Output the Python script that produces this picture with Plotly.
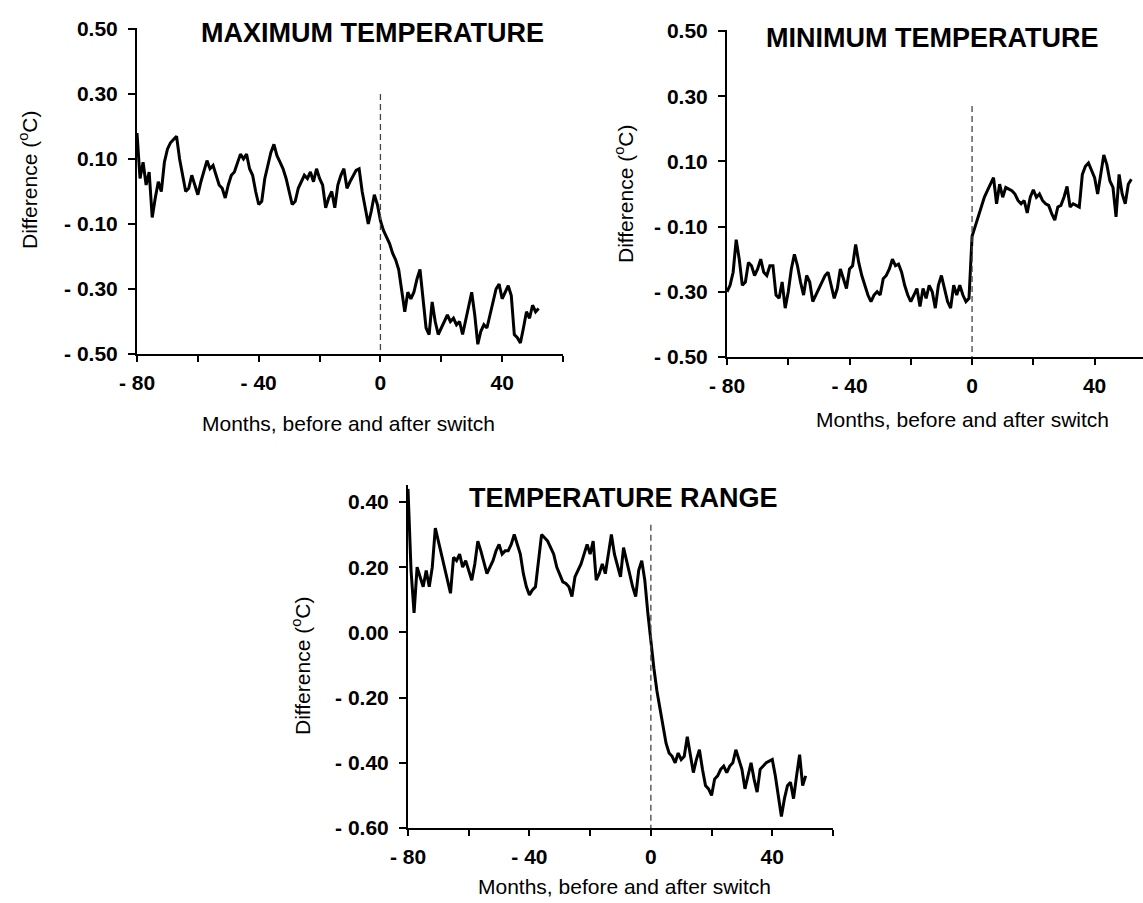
import plotly.graph_objects as go

# ---------------- data ----------------
months_max = list(range(-80, 53))
diff_max = [
    0.18, 0.04, 0.09, 0.02, 0.06, -0.08, -0.02, 0.03, 0.00, 0.09,
    0.13, 0.15, 0.16, 0.17, 0.10, 0.05, 0.00, 0.01, 0.05, 0.02,
    -0.01, 0.03, 0.06, 0.095, 0.07, 0.08, 0.05, 0.02, 0.01, -0.02,
    0.02, 0.05, 0.06, 0.09, 0.115, 0.10, 0.115, 0.07, 0.05, 0.00,
    -0.04, -0.03, 0.04, 0.08, 0.12, 0.145, 0.11, 0.09, 0.07, 0.04,
    0.00, -0.04, -0.03, 0.01, 0.03, 0.05, 0.04, 0.06, 0.03, 0.07,
    0.04, 0.02, -0.05, -0.02, 0.00, -0.05, 0.02, 0.05, 0.07, 0.01,
    0.03, 0.05, 0.065, 0.07, 0.00, -0.05, -0.10, -0.06, -0.01, -0.04,
    -0.09, -0.12, -0.14, -0.16, -0.19, -0.21, -0.24, -0.30, -0.37, -0.31,
    -0.33, -0.31, -0.27, -0.24, -0.34, -0.42, -0.44, -0.34, -0.40, -0.44,
    -0.42, -0.40, -0.38, -0.40, -0.39, -0.41, -0.40, -0.44, -0.40, -0.36,
    -0.31, -0.38, -0.47, -0.43, -0.41, -0.42, -0.38, -0.33, -0.30, -0.285,
    -0.33, -0.31, -0.29, -0.32, -0.44, -0.45, -0.466, -0.42, -0.37, -0.39,
    -0.35, -0.37, -0.36,
]

months_min = list(range(-80, 53))
diff_min = [
    -0.30, -0.28, -0.24, -0.14, -0.20, -0.28, -0.27, -0.21, -0.22, -0.25,
    -0.23, -0.20, -0.24, -0.25, -0.22, -0.22, -0.31, -0.32, -0.27, -0.35,
    -0.30, -0.23, -0.185, -0.22, -0.27, -0.31, -0.25, -0.27, -0.33, -0.31,
    -0.29, -0.27, -0.25, -0.24, -0.28, -0.32, -0.29, -0.23, -0.26, -0.29,
    -0.23, -0.22, -0.155, -0.21, -0.25, -0.28, -0.31, -0.33, -0.31, -0.30,
    -0.31, -0.26, -0.25, -0.23, -0.20, -0.22, -0.215, -0.24, -0.28, -0.31,
    -0.33, -0.31, -0.29, -0.345, -0.29, -0.32, -0.28, -0.30, -0.35, -0.28,
    -0.25, -0.29, -0.33, -0.35, -0.28, -0.31, -0.28, -0.31, -0.33, -0.32,
    -0.13, -0.10, -0.07, -0.04, -0.01, 0.01, 0.03, 0.05, -0.03, 0.03,
    -0.01, 0.02, 0.015, 0.01, 0.00, -0.02, -0.03, -0.02, -0.058, -0.01,
    0.013, -0.01, 0.00, -0.02, -0.03, -0.035, -0.06, -0.08, -0.04, -0.035,
    -0.01, 0.023, -0.04, -0.03, -0.035, -0.04, 0.06, 0.085, 0.095, 0.07,
    0.05, 0.00, 0.06, 0.12, 0.09, 0.04, 0.02, -0.07, 0.06, 0.00,
    -0.03, 0.03, 0.045,
]

months_rng = list(range(-80, 52))
diff_rng = [
    0.44, 0.19, 0.06, 0.20, 0.17, 0.14, 0.19, 0.14, 0.20, 0.32,
    0.28, 0.24, 0.19, 0.16, 0.12, 0.23, 0.22, 0.24, 0.20, 0.22,
    0.19, 0.16, 0.21, 0.28, 0.25, 0.21, 0.18, 0.20, 0.22, 0.25,
    0.27, 0.24, 0.25, 0.25, 0.27, 0.30, 0.27, 0.24, 0.18, 0.14,
    0.115, 0.13, 0.14, 0.22, 0.30, 0.29, 0.28, 0.26, 0.24, 0.20,
    0.18, 0.155, 0.15, 0.14, 0.11, 0.17, 0.19, 0.21, 0.24, 0.27,
    0.24, 0.28, 0.16, 0.18, 0.21, 0.18, 0.24, 0.30, 0.24, 0.20,
    0.17, 0.26, 0.22, 0.19, 0.14, 0.11, 0.19, 0.22, 0.16, 0.06,
    -0.03, -0.11, -0.18, -0.23, -0.29, -0.34, -0.37, -0.38, -0.40, -0.37,
    -0.39, -0.38, -0.32, -0.38, -0.43, -0.39, -0.36, -0.42, -0.47, -0.48,
    -0.50, -0.45, -0.44, -0.42, -0.41, -0.43, -0.41, -0.40, -0.36, -0.39,
    -0.42, -0.48, -0.44, -0.40, -0.45, -0.49, -0.42, -0.41, -0.40, -0.395,
    -0.39, -0.44, -0.50, -0.565, -0.51, -0.47, -0.46, -0.51, -0.44, -0.375,
    -0.47, -0.44,
]

titles = ["MAXIMUM TEMPERATURE", "MINIMUM TEMPERATURE", "TEMPERATURE RANGE"]
x_title = "Months, before and after switch"
y_title = "Difference (<sup>o</sup>C)"

x_tickvals = [-80, -40, 0, 40]
x_ticktext = ["- 80", "- 40", "0", "40"]
x_minorvals = [-60, -20, 20, 60]
y_tickvals_a = [-0.5, -0.3, -0.1, 0.1, 0.3, 0.5]
y_ticktext_a = ["- 0.50", "- 0.30", "- 0.10", "0.10", "0.30", "0.50"]
y_tickvals_b = [-0.6, -0.4, -0.2, 0.0, 0.2, 0.4]
y_ticktext_b = ["- 0.60", "- 0.40", "- 0.20", "0.00", "0.20", "0.40"]

# ---------------- figure ----------------
W, H = 1143, 903
FONT = "Liberation Sans, Arial, Helvetica, sans-serif"

def px_x(p):
    return p / W

def px_y(p):
    return 1 - p / H

fig = go.Figure()
line_style = dict(color="black", width=3)
fig.add_trace(go.Scatter(x=months_max, y=diff_max, mode="lines", line=line_style, xaxis="x", yaxis="y"))
fig.add_trace(go.Scatter(x=months_min, y=diff_min, mode="lines", line=line_style, xaxis="x2", yaxis="y2"))
fig.add_trace(go.Scatter(x=months_rng, y=diff_rng, mode="lines", line=line_style, xaxis="x3", yaxis="y3"))

tick_font = dict(family=FONT, size=21, color="black", weight="bold")

def xaxis(domain, rng, anchor):
    return dict(domain=domain, range=rng, anchor=anchor, tickmode="array",
                tickvals=x_tickvals, ticktext=x_ticktext,
                ticks="outside", ticklen=6, tickwidth=2, tickcolor="black",
                minor=dict(tickmode="array", tickvals=x_minorvals, ticks="outside",
                           ticklen=6, tickwidth=2, tickcolor="black", showgrid=False),
                showline=True, linewidth=2, linecolor="black", showgrid=False, zeroline=False,
                tickfont=tick_font, ticklabelstandoff=3, automargin=False, fixedrange=True)

def yaxis(domain, rng, anchor, tv, tt):
    return dict(domain=domain, range=rng, anchor=anchor, tickmode="array", tickvals=tv, ticktext=tt,
                ticks="outside", ticklen=7, tickwidth=2, tickcolor="black",
                showline=True, linewidth=2, linecolor="black", showgrid=False, zeroline=False,
                tickfont=tick_font, ticklabelstandoff=6, automargin=False, fixedrange=True)

fig.update_layout(
    width=W, height=H, margin=dict(l=0, r=0, t=0, b=0, pad=0, autoexpand=False),
    paper_bgcolor="white", plot_bgcolor="white", showlegend=False,
    xaxis=xaxis([px_x(137), px_x(563)], [-80, 60], "y"),
    yaxis=yaxis([px_y(354), px_y(28)], [-0.5, 0.503], "x", y_tickvals_a, y_ticktext_a),
    xaxis2=xaxis([px_x(727), 1.0], [-80, 55.8], "y2"),
    yaxis2=yaxis([px_y(357), px_y(30)], [-0.5, 0.503], "x2", y_tickvals_a, y_ticktext_a),
    xaxis3=xaxis([px_x(408), px_x(833)], [-80, 60], "y3"),
    yaxis3=yaxis([px_y(828), px_y(485)], [-0.6, 0.452], "x3", y_tickvals_b, y_ticktext_b),
)

# dashed switch lines at month 0
dash_style = dict(color="#444444", width=1.3, dash="6px,4px")
fig.add_shape(type="line", xref="x", yref="y", x0=0, x1=0, y0=0.30, y1=-0.5, line=dash_style)
fig.add_shape(type="line", xref="x2", yref="y2", x0=0, x1=0, y0=0.27, y1=-0.5, line=dash_style)
fig.add_shape(type="line", xref="x3", yref="y3", x0=0, x1=0, y0=0.33, y1=-0.6, line=dash_style)

title_font = dict(family=FONT, size=27, color="black", weight="bold")
label_font = dict(family=FONT, size=21, color="black")

def ann(text, x, y, font, angle=0):
    fig.add_annotation(text=text, x=px_x(x), y=px_y(y), xref="paper", yref="paper",
                       xanchor="center", yanchor="middle", showarrow=False, font=font, textangle=angle)

ann(titles[0], 372, 33, title_font)
ann(titles[1], 932, 38, title_font)
ann(titles[2], 623, 498, title_font)

ann(x_title, 348, 423, label_font)
ann(x_title, 962, 420, label_font)
ann(x_title, 624, 886, label_font)

ann(y_title, 28, 180, label_font, -90)
ann(y_title, 624, 194, label_font, -90)
ann(y_title, 301, 666, label_font, -90)

fig.write_html("out.html")
